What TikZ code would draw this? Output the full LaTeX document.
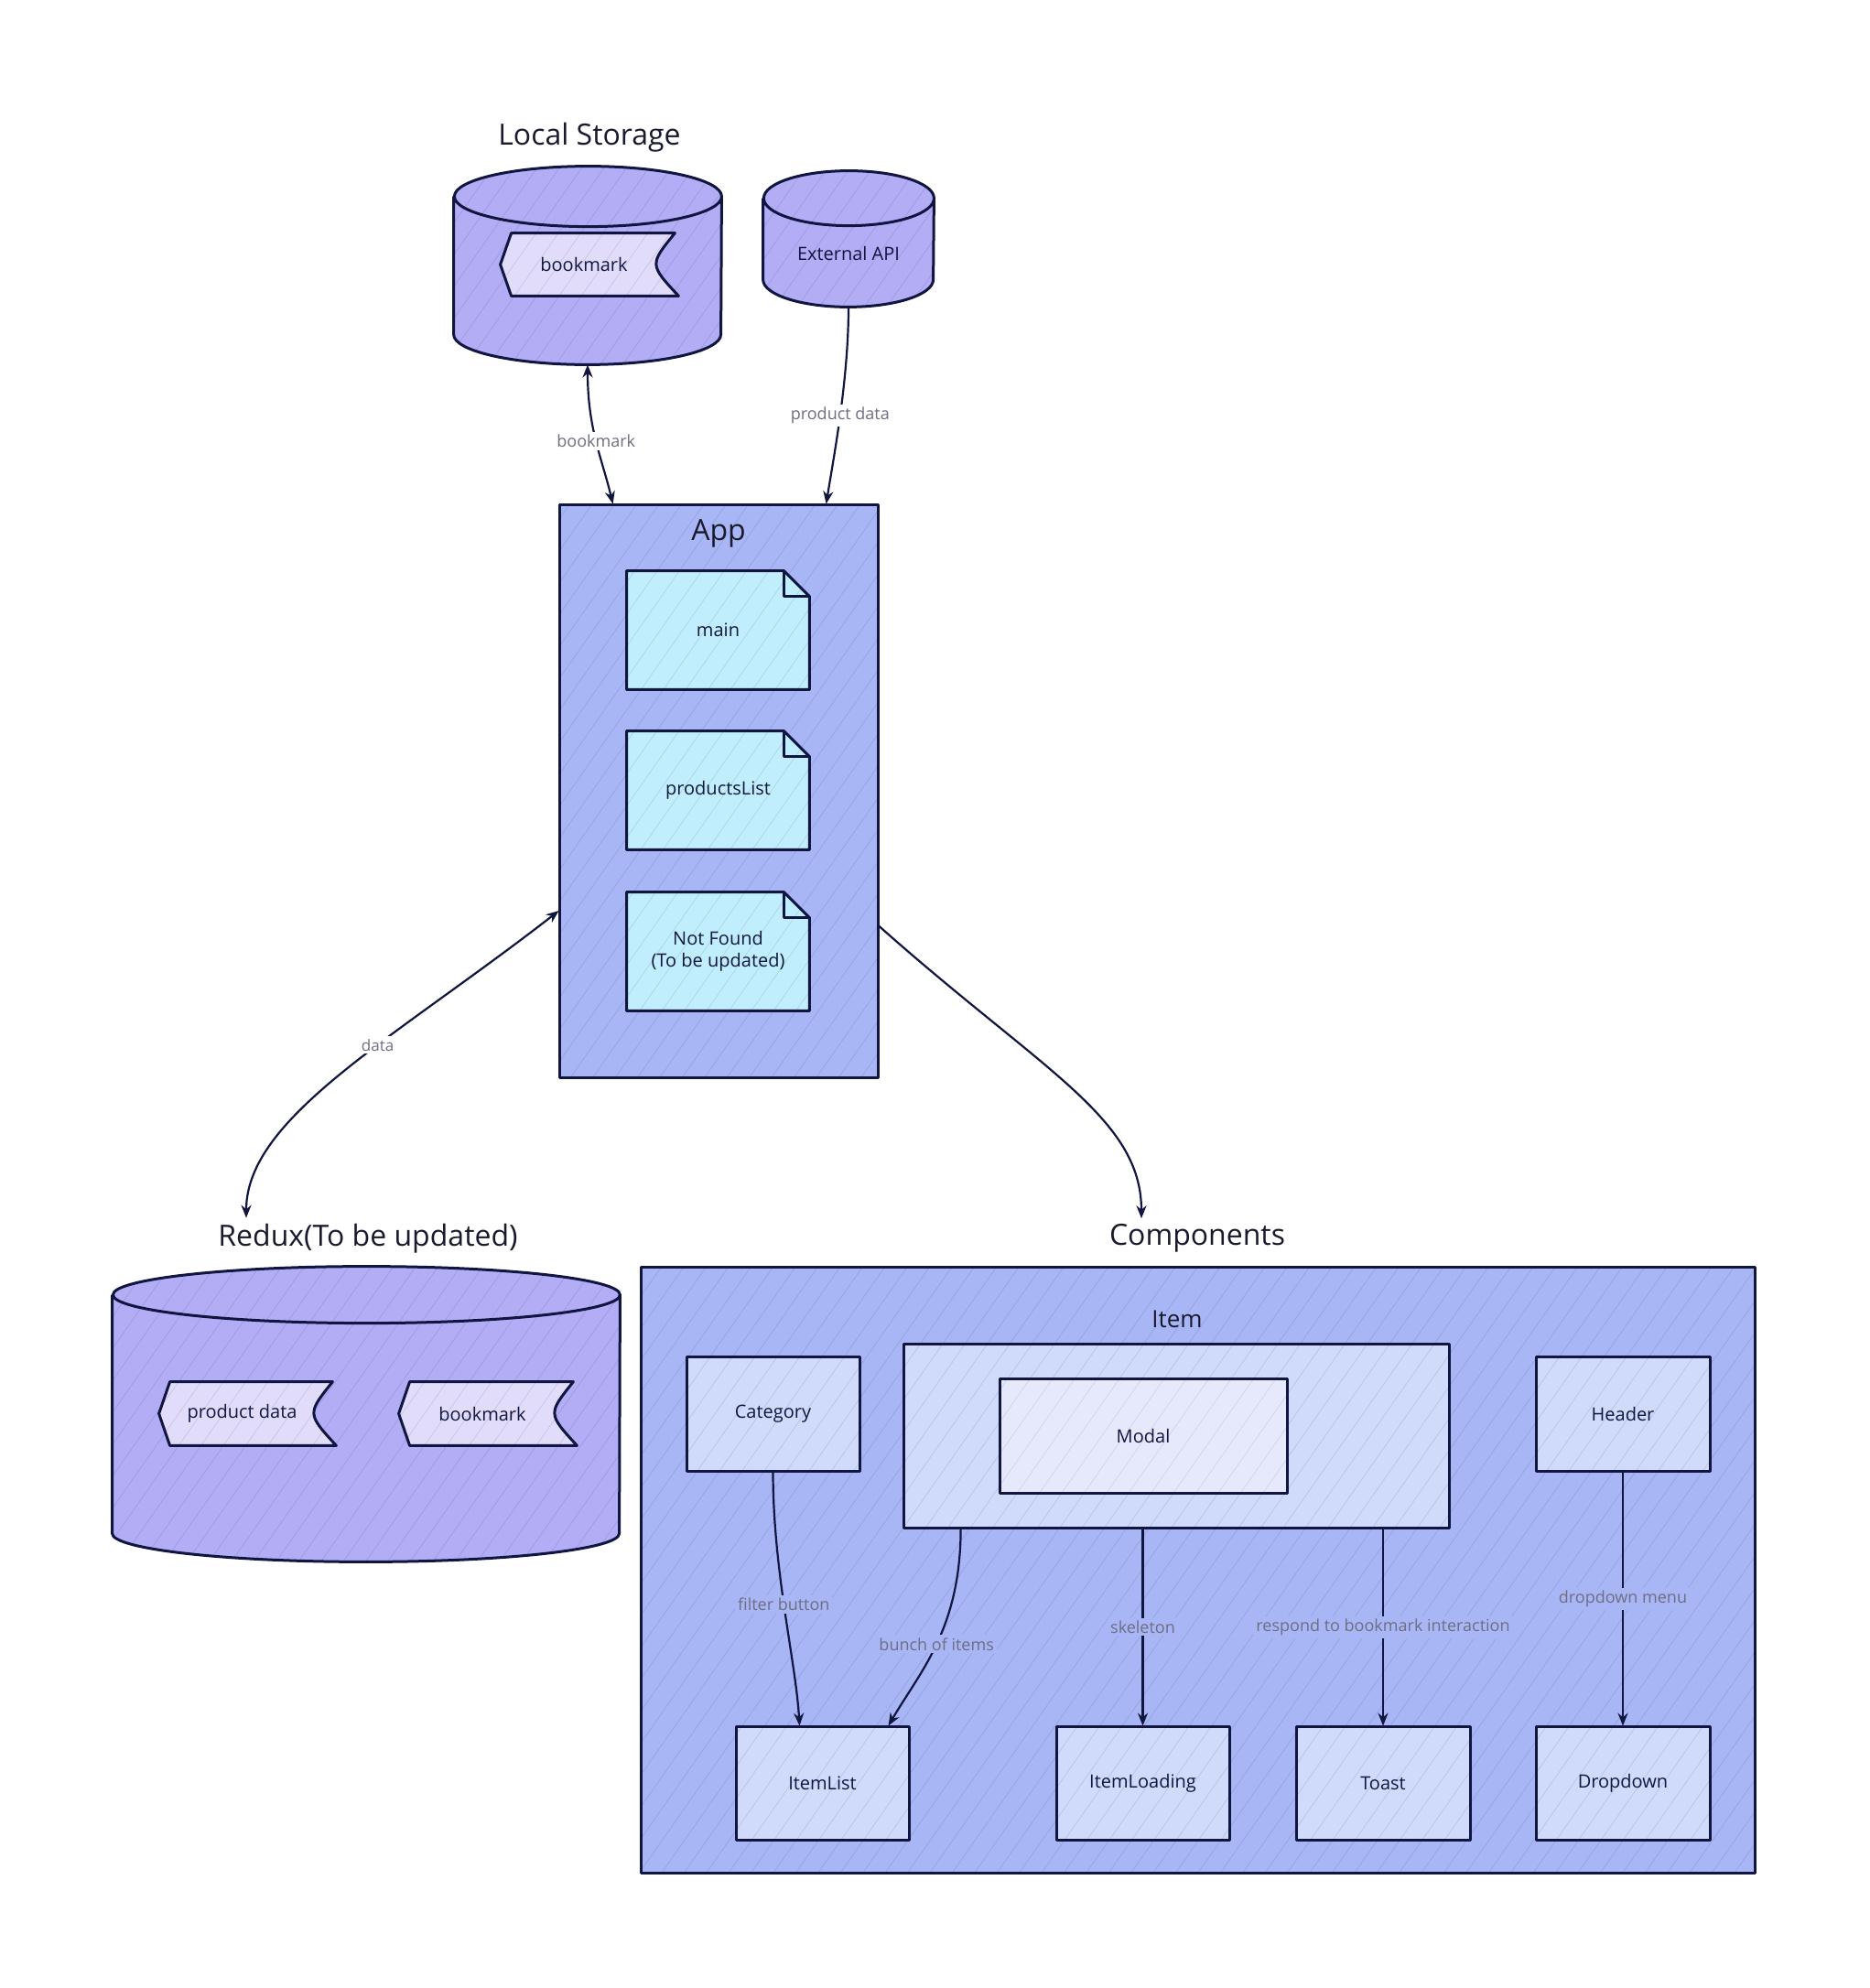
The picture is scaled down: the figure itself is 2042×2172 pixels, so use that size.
\documentclass[tikz,border=0pt]{standalone}
\usepackage{fontspec}
\setmainfont{Open Sans}
\usetikzlibrary{arrows.meta,fit,patterns.meta,calc}
\definecolor{ink}{HTML}{101640}
\definecolor{cylc}{HTML}{B2ADF5}
\definecolor{grpc}{HTML}{A8B6F5}
\definecolor{docc}{HTML}{C1EEFC}
\definecolor{flagc}{HTML}{E2DCFB}
\definecolor{boxc}{HTML}{D0DAFA}
\definecolor{modalc}{HTML}{E6E9FC}
\definecolor{lblc}{HTML}{6E6E82}
\definecolor{titlec}{HTML}{1A1A2E}
\tikzset{
  hatch/.style={postaction={pattern={Lines[angle=55,distance=10pt,line width=0.35pt]},pattern color=#1}},
  shapeline/.style={draw=ink,line width=1.5pt,line join=round},
  outline/.style={postaction={draw=ink,line width=1.5pt,line join=round}},
  grpbox/.style={fill=grpc,hatch=grpc!88!ink,outline,inner sep=0pt},
  ibox/.style={fill=boxc,hatch=boxc!88!ink,outline,inner sep=0pt,font=\fontsize{10}{12}\selectfont,text=ink},
  nodetext/.style={font=\fontsize{10}{12}\selectfont,text=ink,align=center,inner sep=1pt},
  title/.style={font=\fontsize{16}{19}\selectfont,text=titlec,inner sep=1pt},
  conn/.style={draw=ink,line width=1.1pt},
  tip/.style={-{Stealth[length=7pt,width=5.5pt]}},
  dtip/.style={{Stealth[length=7pt,width=5.5pt]}-{Stealth[length=7pt,width=5.5pt]}},
  elabel/.style={font=\fontsize{9}{11}\selectfont,text=lblc,fill=#1,inner sep=1.5pt},
  elabel/.default=white
}
% cylinder: name, x1,y1,x2,y2 (px), ry (px), fill colour
\newcommand{\dbcyl}[7]{%
  \node[fit={(#2,#3)(#4,#5)}, inner sep=0pt] (#1) {};
  \pgfmathsetmacro\cylrx{(#4-#2)*0.25}%
  \pgfmathsetmacro\cylry{#6*0.5}%
  \path[fill=#7,hatch=#7!88!ink] ([yshift=-\cylry pt]#1.north west) -- ([yshift=\cylry pt]#1.south west)
     arc[start angle=180,end angle=360,x radius=\cylrx pt,y radius=\cylry pt]
     -- ([yshift=-\cylry pt]#1.north east)
     arc[start angle=0,end angle=180,x radius=\cylrx pt,y radius=\cylry pt] -- cycle;
  \draw[shapeline] ([yshift=-\cylry pt]#1.north west) -- ([yshift=\cylry pt]#1.south west)
     arc[start angle=180,end angle=360,x radius=\cylrx pt,y radius=\cylry pt]
     -- ([yshift=-\cylry pt]#1.north east)
     arc[start angle=0,end angle=360,x radius=\cylrx pt,y radius=\cylry pt];
}
% document with folded corner
\newcommand{\docnode}[6]{%
  \node[fit={(#2,#3)(#4,#5)}, inner sep=0pt] (#1) {};
  \path[fill=docc,hatch=docc!88!ink] (#1.north west) -- ([xshift=-14pt]#1.north east) -- ([yshift=-14pt]#1.north east) -- (#1.south east) -- (#1.south west) -- cycle;
  \draw[shapeline] (#1.north west) -- ([xshift=-14pt]#1.north east) -- ([yshift=-14pt]#1.north east) -- (#1.south east) -- (#1.south west) -- cycle;
  \draw[shapeline] ([xshift=-14pt]#1.north east) -- ([xshift=-14pt,yshift=-14pt]#1.north east) -- ([yshift=-14pt]#1.north east);
  \node[nodetext] (#1-t) at (#1.center) {#6};
}
% flag (stored data) shape
\newcommand{\flagnode}[6]{%
  \node[fit={(#2,#3)(#4,#5)}, inner sep=0pt] (#1) {};
  \path[fill=flagc,hatch=flagc!88!ink] ([xshift=6pt]#1.north west) -- ([xshift=-2pt]#1.north east)
     .. controls ([xshift=-16pt]#1.east) .. (#1.south east) -- ([xshift=6pt]#1.south west) -- (#1.west) -- cycle;
  \draw[shapeline] ([xshift=6pt]#1.north west) -- ([xshift=-2pt]#1.north east)
     .. controls ([xshift=-16pt]#1.east) .. (#1.south east) -- ([xshift=6pt]#1.south west) -- (#1.west) -- cycle;
  \node[nodetext] (#1-t) at ([xshift=-3pt]#1.center) {#6};
}
\begin{document}
\begin{tikzpicture}[x=0.5pt,y=-0.5pt]
\useasboundingbox (0,0) rectangle (2042,2172);

% ---------- Local Storage ----------
\node[title] (lstitle) at (644,150) {Local Storage};
\dbcyl{ls}{496}{182}{788}{398}{33}{cylc}
\flagnode{lsbm}{547}{255}{741}{323}{bookmark}

% ---------- External API ----------
\dbcyl{ext}{834}{187}{1020}{335}{30}{cylc}
\node[nodetext] (ext-t) at ([yshift=-8pt]ext.center) {External API};

% ---------- App ----------
\node[grpbox, fit={(611,551)(959,1177)}] (app) {};
\node[title] (apptitle) at (785,583) {App};
\docnode{main}{685}{624}{884}{753}{main}
\docnode{plist}{685}{799}{884}{928}{productsList}
\docnode{nf}{685}{975}{884}{1104}{Not Found\\(To be updated)}

% ---------- Redux ----------
\node[title] (rdxtitle) at (402,1353) {Redux(To be updated)};
\dbcyl{rdx}{123}{1384}{677}{1706}{31}{cylc}
\flagnode{rpd}{174}{1510}{367}{1579}{product data}
\flagnode{rbm}{436}{1510}{630}{1579}{bookmark}

% ---------- Components ----------
\node[title] (comptitle) at (1308,1353) {Components};
\node[grpbox, fit={(700,1384)(1917,2046)}] (comp) {};
\node[title, font=\fontsize{13}{15}\selectfont] (itemtitle) at (1286,1441) {Item};
\node[ibox, fit={(987,1468)(1583,1669)}] (item) {};
\node[fill=modalc, hatch=modalc!90!ink, outline, inner sep=0pt, fit={(1092,1506)(1406,1631)}] (modal) {};
\node[nodetext] (modal-t) at (modal.center) {Modal};
\node[ibox, fit={(750,1482)(939,1607)}] (cat) {};
\node[nodetext] (cat-t) at (cat.center) {Category};
\node[ibox, fit={(1678,1482)(1868,1607)}] (header) {};
\node[nodetext] (header-t) at (header.center) {Header};
\node[ibox, fit={(804,1886)(993,2010)}] (itemlist) {};
\node[nodetext] (itemlist-t) at (itemlist.center) {ItemList};
\node[ibox, fit={(1154,1886)(1343,2010)}] (itemload) {};
\node[nodetext] (itemload-t) at (itemload.center) {ItemLoading};
\node[ibox, fit={(1416,1886)(1606,2010)}] (toast) {};
\node[nodetext] (toast-t) at (toast.center) {Toast};
\node[ibox, fit={(1678,1886)(1868,2010)}] (dropdown) {};
\node[nodetext] (dropdown-t) at (dropdown.center) {Dropdown};

% ---------- connectors ----------
\draw[conn,dtip] (ls.south) .. controls +(0,70) and +(-12,-50) .. ([xshift=29.5pt]app.north west)
  node[elabel,pos=0.5] (l-bm) {bookmark};
\draw[conn,tip] (ext.south) .. controls +(0,80) and +(8,-50) .. ([xshift=146pt]app.north west)
  node[elabel,pos=0.5] (l-pd) {product data};
\draw[conn,dtip] ([yshift=-65.5pt]app.west) .. controls +(-180,140) and +(0,-110) .. ([xshift=-66.5pt,yshift=2pt]rdxtitle.north)
  node[elabel,pos=0.4,font=\fontsize{8.5}{10}\selectfont] (l-data) {data};
\draw[conn,tip] ([yshift=-73.5pt]app.east) .. controls +(180,160) and +(0,-110) .. ([xshift=-30.5pt,yshift=2pt]comptitle.north);

\draw[conn,tip] (cat.south) .. controls +(0,110) and +(-4,-70) .. ([xshift=-12.5pt]itemlist.north)
  node[elabel=grpc,pos=0.47] (l-fb) {filter button};
\draw[conn,tip] ([xshift=31.5pt]item.south west) .. controls +(0,110) and +(35,-60) .. ([xshift=36pt]itemlist.north)
  node[elabel=grpc,pos=0.5] (l-bi) {bunch of items};
\draw[conn,tip] (itemload.north |- item.south) -- (itemload.north)
  node[elabel=grpc,pos=0.5] (l-sk) {skeleton};
\draw[conn,tip] (toast.north |- item.south) -- (toast.north)
  node[elabel=grpc,pos=0.5] (l-rb) {respond to bookmark interaction};
\draw[conn,tip] (header.south) -- (dropdown.north)
  node[elabel=grpc,pos=0.5] (l-dd) {dropdown menu};
\end{tikzpicture}
\end{document}
